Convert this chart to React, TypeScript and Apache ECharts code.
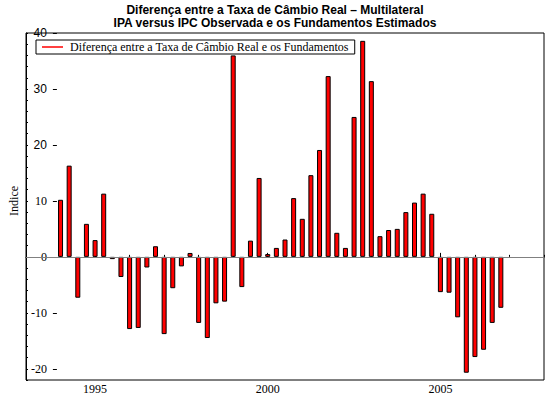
import React, { useEffect, useRef } from "react";
import * as echarts from "echarts";

const seriesName = "Diferença entre a Taxa de Câmbio Real e os Fundamentos";
const years = [1994, 1995, 1996, 1997, 1998, 1999, 2000, 2001, 2002, 2003, 2004, 2005, 2006];
const quarterOffsets = [0, 0.25, 0.5, 0.75];
const values = [
  10.2, 16.3, -7.3, 5.9,
  3.0, 11.3, -0.4, -3.6,
  -12.9, -12.7, -1.9, 1.9,
  -13.8, -5.6, -1.7, 0.7,
  -11.8, -14.5, -8.3, -8.0,
  36.0, -5.4, 2.9, 14.1,
  0.5, 1.6, 3.1, 10.5,
  6.8, 14.6, 19.1, 32.3,
  4.3, 1.6, 25.0, 38.6,
  31.4, 3.7, 4.8, 5.0,
  8.0, 9.7, 11.3, 7.7,
  -6.3, -6.4, -10.8, -20.7,
  -17.9, -16.6, -11.8, -9.1,
];
const xTickLabels = [1995, 2000, 2005];
const yTickLabels = [-20, -10, 0, 10, 20, 30, 40];

export default function App() {
  const ref = useRef<HTMLDivElement>(null);
  useEffect(() => {
    if (!ref.current) return;
    const chart = echarts.init(ref.current, undefined, { renderer: "svg" });

    const times: number[] = [];
    years.forEach((y) => quarterOffsets.forEach((q) => times.push(y + q)));
    const data = values.map((v, i) => [times[i], v]);

    const gl = 26, gt = 33, gw = 518, gh = 347;
    const xMin = 1993, xMax = 2008, yMin = -22, yMax = 40;
    const pxYr = gw / (xMax - xMin);
    const pxU = gh / (yMax - yMin);
    const xMaj0 = xTickLabels[0], xMaj1 = xTickLabels[xTickLabels.length - 1];
    const yMaj0 = yTickLabels[0], yMaj1 = yTickLabels[yTickLabels.length - 1];

    const serif = "Liberation Serif";
    const sans = "Liberation Sans";

    chart.setOption({
      animation: false,
      backgroundColor: "#fff",
      title: {
        text: "Diferença entre a Taxa de Câmbio Real – Multilateral\nIPA versus IPC Observada e os Fundamentos Estimados",
        left: "center",
        top: 3,
        padding: [0, 11, 0, 5],
        textStyle: { fontFamily: sans, fontWeight: "bold", fontSize: 12, lineHeight: 13, color: "#000" },
      },
      legend: {
        left: 36,
        top: 40,
        padding: [1, 6],
        borderColor: "#000",
        borderWidth: 1,
        backgroundColor: "#fff",
        icon: "rect",
        itemWidth: 21,
        itemHeight: 1.5,
        itemGap: 0,
        itemStyle: { color: "#ff0000", borderWidth: 0 },
        textStyle: { fontFamily: serif, fontSize: 12, color: "#000", padding: [0, 0, 0, 2] },
        data: [seriesName],
      },
      grid: [
        { left: gl, top: gt, width: gw, height: gh, show: true, borderColor: "#000", borderWidth: 1, backgroundColor: "transparent" },
        { left: gl + (xMaj0 - xMin) * pxYr, top: gt, width: (xMaj1 - xMaj0) * pxYr, height: gh },
        { left: gl, top: gt + (yMax - yMaj1) * pxU, width: gw, height: (yMaj1 - yMaj0) * pxU },
      ],
      xAxis: [
        {
          type: "value", gridIndex: 0, min: xMin, max: xMax, interval: 1,
          axisLine: { lineStyle: { color: "#000", width: 1 } },
          axisTick: { inside: true, length: 2, lineStyle: { color: "#000" } },
          axisLabel: { show: false },
          splitLine: { show: false },
        },
        {
          type: "value", gridIndex: 1, min: xMaj0, max: xMaj1, interval: 5,
          axisLine: { show: false },
          axisTick: { inside: true, length: 4, lineStyle: { color: "#000" } },
          axisLabel: { fontFamily: serif, fontSize: 12, color: "#000", margin: 3, formatter: (v: number) => String(v) },
          splitLine: { show: false },
        },
        { type: "value", gridIndex: 2, min: 0, max: 1, show: false },
      ],
      yAxis: [
        {
          type: "value", gridIndex: 0, min: yMin, max: yMax, interval: 2,
          axisLine: { show: true, lineStyle: { color: "#000", width: 1 } },
          axisTick: { show: true, inside: true, length: 2, lineStyle: { color: "#000" } },
          axisLabel: { show: false },
          splitLine: { show: false },
        },
        { type: "value", gridIndex: 1, min: yMin, max: yMax, show: false },
        {
          type: "value", gridIndex: 2, min: yMaj0, max: yMaj1, interval: 10,
          axisLine: { show: false },
          axisTick: { show: true, inside: true, length: 4, lineStyle: { color: "#000" } },
          axisLabel: {
            margin: 6,
            formatter: (v: number) => (v >= 20 ? `{s|${v}}` : `{r|${v}}`),
            rich: {
              s: { fontFamily: sans, fontSize: 12, color: "#000" },
              r: { fontFamily: serif, fontSize: 12, color: "#000" },
            },
          },
          splitLine: { show: false },
          name: "Indice",
          nameLocation: "middle",
          nameGap: 15,
          nameTextStyle: { fontFamily: serif, fontSize: 12, color: "#000" },
        },
      ],
      series: [
        {
          type: "bar",
          name: seriesName,
          xAxisIndex: 0,
          yAxisIndex: 0,
          data,
          barWidth: 5,
          itemStyle: { color: "#ff0000", borderColor: "#000", borderWidth: 1 },
          markLine: {
            silent: true,
            symbol: "none",
            label: { show: false },
            lineStyle: { color: "#808080", width: 1, type: "solid" },
            data: [{ yAxis: 0 }],
          },
        },
      ],
    });
    return () => chart.dispose();
  }, []);
  return (
    <div
      ref={ref}
      style={{ position: "fixed", left: 0, top: 0, width: 550, height: 396, background: "#fff" }}
    />
  );
}
